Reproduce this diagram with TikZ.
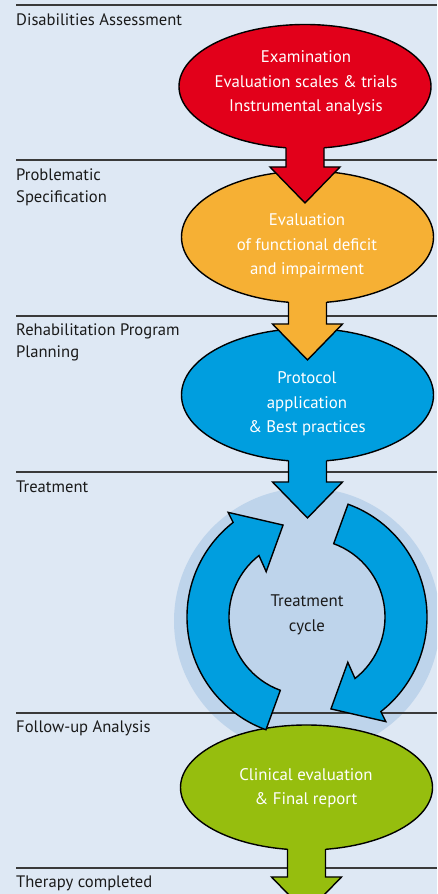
\documentclass[tikz,border=0pt]{standalone}
\usepackage{fontspec}
\setmainfont{PT Sans}
\usetikzlibrary{calc,shapes.geometric}

\definecolor{bgc}{HTML}{DEE8F4}
\definecolor{cyclec}{HTML}{BED4EB}
\definecolor{rulec}{HTML}{3A3A3A}
\definecolor{textc}{HTML}{1A1A1A}
\definecolor{redc}{HTML}{E2001A}
\definecolor{orangec}{HTML}{F6B034}
\definecolor{bluec}{HTML}{009EDF}
\definecolor{greenc}{HTML}{96BE0E}

\begin{document}
\begin{tikzpicture}[x=1pt,y=1pt]
        \tikzstyle{stage}=[ellipse,draw=black,line width=1.4pt,inner sep=0pt,outer sep=0pt,minimum width=252pt]
        \tikzstyle{stagetext}=[align=center,inner sep=0pt,text=white,font=\fontsize{16.8}{24.5}\selectfont]
        \tikzstyle{steplabel}=[anchor=base west,align=left,inner sep=0pt,text=textc,font=\fontsize{16.6}{22}\selectfont]
        \tikzstyle{rule}=[draw=rulec,line width=1.3pt]
        \tikzstyle{block}=[draw=black,line width=1.4pt,line join=miter]

        \useasboundingbox (0,0) rectangle (437,894);
        \clip (0,0) rectangle (437,894);
        \fill[bgc] (0,0) rectangle (437,894);
        \fill[cyclec] (307,273) circle (133pt);

        % phases
        \foreach \y in {889,734,578,422,181,26}
          \draw[rule] (16,\y) -- (437,\y);
        \node[steplabel] (disab) at (16,868) {Disabilities Assessment};
        \node[steplabel] (probl) at (16,691) {Problematic\\Specification};
        \node[steplabel] (rehab) at (16,536) {Rehabilitation Program\\Planning};
        \node[steplabel] (treat) at (16,401) {Treatment};
        \node[steplabel] (follow) at (16,161) {Follow-up Analysis};
        \node[steplabel] (done) at (16,6) {Therapy completed};

        % stages
        \node[stage,fill=redc,minimum height=124pt] (exam) at (305,807.5) {};
        \node[stage,fill=orangec,minimum height=132pt] (deficit) at (307.5,657) {};
        \node[stage,fill=bluec,minimum height=133pt] (protocol) at (307.5,499) {};
        \node[stage,fill=greenc,minimum height=125pt] (report) at (306.5,106.5) {};

        \foreach \s/\c/\d in {exam/redc/18.5,deficit/orangec/21,protocol/bluec/20.5,report/greenc/27} {
          \fill[\c] ($(\s.south)+(-19,8)$) -- ($(\s.south)+(-19,-\d)$) -- ++(-16,0)
            -- ($(\s.south)+(0,-\d-36)$) -- ($(\s.south)+(35,-\d)$) -- ++(-16,0)
            -- ($(\s.south)+(19,8)$) -- cycle;
          \draw[block] ($(\s.south)+(-19,0.8)$) -- ($(\s.south)+(-19,-\d)$) -- ++(-16,0)
            -- ($(\s.south)+(0,-\d-36)$) -- ($(\s.south)+(35,-\d)$) -- ++(-16,0)
            -- ($(\s.south)+(19,0.8)$);
        }

        % treatment cycle
        \begin{scope}[shift={(307,277)}]
          \foreach \r in {0,180}
            \draw[block,fill=bluec,rotate=\r] (250:120pt) arc[start angle=250,end angle=128,radius=120pt]
              -- (127:131pt) -- (104.6:95pt) -- (132:61pt) -- (128:78pt)
              arc[start angle=128,end angle=250,radius=78pt] -- cycle;
        \end{scope}

        \node[stagetext] (examtxt) at (306,811) {Examination\\Evaluation scales \& trials\\Instrumental analysis};
        \node[stagetext] (deficittxt) at (307,648) {Evaluation\\of functional deficit\\and impairment};
        \node[stagetext] (protocoltxt) at (307,490) {Protocol\\application\\\& Best practices};
        \node[stagetext] (reporttxt) at (306,106) {Clinical evaluation\\\& Final report};
        \node[stagetext,text=textc] (cycletxt) at (307,279) {Treatment\\cycle};
\end{tikzpicture}
\end{document}
